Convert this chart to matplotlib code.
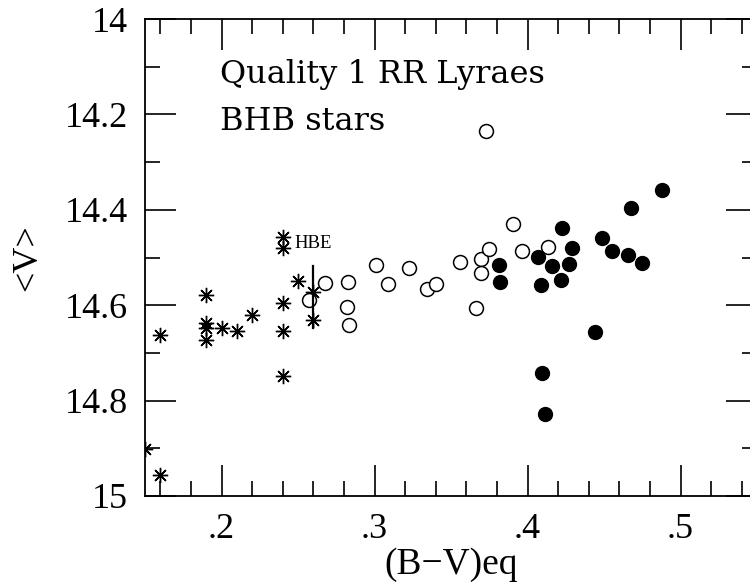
import matplotlib
matplotlib.use("Agg")
import matplotlib.pyplot as plt
from matplotlib.ticker import MultipleLocator, FuncFormatter

# BHB stars (asterisks)
bhb_bv = [0.16, 0.19, 0.19, 0.19, 0.19, 0.20, 0.21, 0.22, 0.24, 0.24, 0.24,
          0.24, 0.24, 0.25, 0.26, 0.26, 0.16, 0.1497]
bhb_v = [14.662, 14.578, 14.638, 14.648, 14.673, 14.647, 14.654, 14.621,
         14.456, 14.481, 14.595, 14.654, 14.748, 14.549, 14.572, 14.631,
         14.956, 14.902]

# Quality 1 RR Lyraes, open circles
rr_open_bv = [0.2572, 0.2676, 0.2829, 0.2817, 0.2833, 0.3010, 0.3090, 0.3227,
              0.3341, 0.3402, 0.3559, 0.3699, 0.3699, 0.3748, 0.3663, 0.3907,
              0.3967, 0.4137, 0.3727]
rr_open_v = [14.589, 14.554, 14.551, 14.603, 14.642, 14.516, 14.556, 14.521,
             14.567, 14.556, 14.510, 14.504, 14.533, 14.483, 14.605, 14.430,
             14.486, 14.479, 14.234]

# Quality 1 RR Lyraes, filled circles
rr_fill_bv = [0.3816, 0.3820, 0.4067, 0.4088, 0.4158, 0.4227, 0.4289, 0.4271,
              0.4217, 0.4489, 0.4554, 0.4655, 0.4746, 0.4676, 0.4877, 0.4441,
              0.4093, 0.4114]
rr_fill_v = [14.516, 14.551, 14.498, 14.558, 14.517, 14.438, 14.481, 14.514,
             14.547, 14.460, 14.486, 14.495, 14.512, 14.397, 14.358, 14.656,
             14.743, 14.829]

# HBE marker line
hbe_bv = [0.26, 0.26]
hbe_v = [14.518, 14.648]
hbe_label = "HBE"
hbe_label_pos = (0.248, 14.47)

texts = ["Quality 1 RR Lyraes", "BHB stars"]
xlabel = "(B\u2212V)eq"
ylabel = "<V>"

serif = "Liberation Serif"
dserif = "DejaVu Serif"

fig = plt.figure(figsize=(7.5, 5.82), dpi=100)
ax = fig.add_axes([145 / 750, 86 / 582, 612 / 750, 477 / 582])

ax.plot(bhb_bv, bhb_v, linestyle="none", marker=(8, 2, 0), markersize=11,
        markeredgewidth=1.0, color="black")
ax.plot(rr_open_bv, rr_open_v, linestyle="none", marker="o", markersize=10,
        markerfacecolor="white", markeredgecolor="black", markeredgewidth=1.1)
ax.plot(rr_fill_bv, rr_fill_v, linestyle="none", marker="o", markersize=10,
        markerfacecolor="black", markeredgecolor="black")
ax.plot(hbe_bv, hbe_v, color="black", linewidth=1.6)
ax.text(hbe_label_pos[0], hbe_label_pos[1], hbe_label, fontsize=13.5,
        family=serif, va="center", ha="left")

ax.set_xlim(0.15, 0.55)
ax.set_ylim(15, 14)

ax.xaxis.set_major_locator(MultipleLocator(0.1))
ax.xaxis.set_minor_locator(MultipleLocator(0.02))
ax.yaxis.set_major_locator(MultipleLocator(0.2))
ax.yaxis.set_minor_locator(MultipleLocator(0.1))

def xfmt(v, pos):
    s = "%.1f" % v
    return s[1:] if s.startswith("0") else s

def yfmt(v, pos):
    s = "%.1f" % v
    return s[:-2] if s.endswith(".0") else s

ax.xaxis.set_major_formatter(FuncFormatter(xfmt))
ax.yaxis.set_major_formatter(FuncFormatter(yfmt))

ax.tick_params(which="both", direction="in", top=True, right=True,
               width=1.2, colors="black")
ax.tick_params(which="major", length=22)
ax.tick_params(which="minor", length=11)
ax.tick_params(axis="y", which="major", pad=12)
ax.tick_params(axis="x", which="major", pad=12)
for lab in ax.get_xticklabels() + ax.get_yticklabels():
    lab.set_family(serif)
    lab.set_fontsize(26)

for sp in ax.spines.values():
    sp.set_linewidth(1.3)

ax.text(220 / 750, 1 - 75 / 582, texts[0], transform=fig.transFigure,
        fontsize=23, family=dserif, va="center", ha="left")
ax.text(220 / 750, 1 - 122 / 582, texts[1], transform=fig.transFigure,
        fontsize=23, family=dserif, va="center", ha="left")

ax.set_xlabel(xlabel, fontsize=27, family=serif)
ax.set_ylabel(ylabel, fontsize=26, family=serif)
ax.xaxis.set_label_coords(0.5, (496 - 565) / 477)
ax.yaxis.set_label_coords((28 - 145) / 612, 0.5)
ax.xaxis.label.set_va("center")
ax.yaxis.label.set_va("center")

fig.savefig("out.png", dpi=100)
